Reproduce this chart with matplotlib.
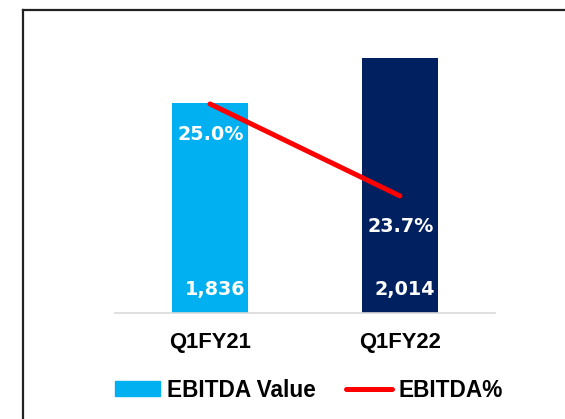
import matplotlib
matplotlib.use("Agg")
import matplotlib.pyplot as plt
from matplotlib.lines import Line2D
from matplotlib.patches import Patch

# data
categories = ["Q1FY21", "Q1FY22"]
ebitda_value = [1836, 2014]
ebitda_pct = [25.0, 23.7]
value_labels = ["1,836", "2,014"]
pct_labels = ["25.0%", "23.7%"]
bar_colors = ["#00B0F0", "#002060"]

W, H = 565, 419
fig = plt.figure(figsize=(W / 100, H / 100), dpi=100)

ax = fig.add_axes([115 / W, 1 - 312.7 / H, 380 / W, 282.7 / H])
x = list(range(len(categories)))
ax.bar(x, ebitda_value, width=0.4, color=bar_colors, zorder=2)
ax.set_xlim(-0.5, 1.5)
ax.set_ylim(1000, 2127)
for s in ["top", "left", "right"]:
    ax.spines[s].set_visible(False)
ax.spines["bottom"].set_color("#d9d9d9")
ax.spines["bottom"].set_linewidth(1.2)
ax.set_yticks([])
ax.set_xticks(x)
ax.set_xticklabels(categories, fontfamily="Liberation Sans", fontweight="bold",
                   fontsize=15.8, color="black")
ax.tick_params(axis="x", length=0, pad=14)

for i, lab in enumerate(value_labels):
    ax.annotate(lab, (x[i], 1000), xytext=(3.5, 16.5), textcoords="offset points",
                ha="center", va="center", color="white", fontsize=13.8,
                fontweight="bold", fontfamily="DejaVu Sans", zorder=4)

ax2 = ax.twinx()
ax2.plot(x, ebitda_pct, color="#FF0000", lw=3.6, solid_capstyle="round", zorder=3)
ax2.set_ylim(22.05, 26.045)
ax2.axis("off")
for i, lab in enumerate(pct_labels):
    ax2.annotate(lab, (x[i], ebitda_pct[i]), xytext=(0.5, -22), textcoords="offset points",
                 ha="center", va="center", color="white", fontsize=13.8,
                 fontweight="bold", fontfamily="DejaVu Sans", zorder=4)

handles = [Patch(color=bar_colors[0], label="EBITDA Value"),
           Line2D([], [], color="#FF0000", lw=3.6, solid_capstyle="round", label="EBITDA%")]
fig.legend(handles=handles, loc="center left", bbox_to_anchor=(115 / W, 1 - 390 / H),
           ncol=2, frameon=False, borderpad=0, borderaxespad=0,
           handlelength=2.0, handleheight=0.62, handletextpad=0.3, columnspacing=1.35,
           prop={"family": "Liberation Sans", "weight": "bold", "size": 16.3})

# frame lines (top and left)
fig.add_artist(Line2D([22.5 / W, 22.5 / W], [0, 1 - 10.5 / H], color="#222222",
                      lw=1.6, transform=fig.transFigure))
fig.add_artist(Line2D([22.5 / W, 1], [1 - 10.5 / H, 1 - 10.5 / H], color="#222222",
                      lw=1.6, transform=fig.transFigure))

fig.savefig("out.png", dpi=100)
